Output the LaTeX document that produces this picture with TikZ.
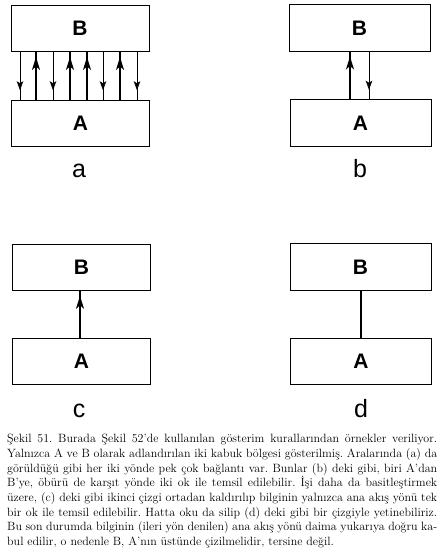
\documentclass[tikz,border=0pt]{standalone}
\usepackage{fontspec}
\newfontfamily\labelfont{Liberation Sans}
\usetikzlibrary{decorations.markings,arrows.meta}
\tikzset{
  box/.style={draw, line width=0.9pt, minimum width=138pt, minimum height=46.5pt, inner sep=0pt,
    font=\labelfont\bfseries\fontsize{21}{21}\selectfont},
  panellabel/.style={anchor=base, inner sep=0pt, font=\labelfont\fontsize{25}{25}\selectfont},
  uparrow/.style={line width=1.3pt, postaction={decorate},
    decoration={markings, mark=at position 0.9 with {\arrow{Stealth[length=13pt,width=8pt,inset=3.5pt]}}}},
  downarrow/.style={line width=0.8pt, postaction={decorate},
    decoration={markings, mark=at position 0.8 with {\arrow{Stealth[length=9pt,width=6.5pt,inset=2pt]}}}},
  plainline/.style={line width=1.1pt},
  caption/.style={anchor=north west, inner sep=0pt, text width=430pt, align=justify,
    font=\fontsize{12}{14.7}\selectfont}
}
\begin{document}
\begin{tikzpicture}[x=1pt,y=-1pt]
\useasboundingbox (0,0) rectangle (444,556);
% panel a
\node[box] (Ba) at (80,28.5) {B};
\node[box] (Aa) at (80.5,123.5) {A};
\foreach \x in {36,70,87,120} \draw[uparrow] (\x,0 |- Aa.north) -- (\x,0 |- Ba.south);
\foreach \x in {20,53,103,137} \draw[downarrow] (\x,0 |- Ba.south) -- (\x,0 |- Aa.north);
\node[panellabel] (la) at (79,178) {a};
% panel b
\node[box, minimum width=141pt] (Bb) at (359.5,28) {B};
\node[box, minimum width=141pt] (Ab) at (360.5,123) {A};
\draw[uparrow] (350,0 |- Ab.north) -- (350,0 |- Bb.south);
\draw[downarrow] (369,0 |- Bb.south) -- (369,0 |- Ab.north);
\node[panellabel] (lb) at (360,178) {b};
% panel c
\node[box] (Bc) at (81.5,267.5) {B};
\node[box] (Ac) at (81.5,361.5) {A};
\draw[uparrow] (80,0 |- Ac.north) -- (80,0 |- Bc.south);
\node[panellabel] (lc) at (79,417) {c};
% panel d
\node[box, minimum width=141pt] (Bd) at (360.5,267) {B};
\node[box, minimum width=141pt] (Ad) at (361,361.5) {A};
\draw[plainline] (361,0 |- Ad.north) -- (361,0 |- Bd.south);
\node[panellabel] (ld) at (361,417) {d};
% caption
\node[caption] (cap) at (7,434) {\frenchspacing\hyphenpenalty=10000\emergencystretch=5pt
Şekil 51. Burada Şekil 52'de kullanılan gösterim kurallarından örnekler veriliyor.\linebreak
Yalnızca A ve B olarak adlandırılan iki kabuk bölgesi gösterilmiş. Aralarında (a) da\linebreak
görüldüğü gibi her iki yönde pek çok bağlantı var. Bunlar (b) deki gibi, biri A'dan\linebreak
B'ye, öbürü de karşıt yönde iki ok ile temsil edilebilir. İşi daha da basitleştirmek\linebreak
üzere, (c) deki gibi ikinci çizgi ortadan kaldırılıp bilginin yalnızca ana akış yönü tek\linebreak
bir ok ile temsil edilebilir. Hatta oku da silip (d) deki gibi bir çizgiyle yetinebiliriz.\linebreak
Bu son durumda bilginin (ileri yön denilen) ana akış yönü daima yukarıya doğru ka-\linebreak
bul edilir, o nedenle B, A'nın üstünde çizilmelidir, tersine değil.};
\end{tikzpicture}
\end{document}
